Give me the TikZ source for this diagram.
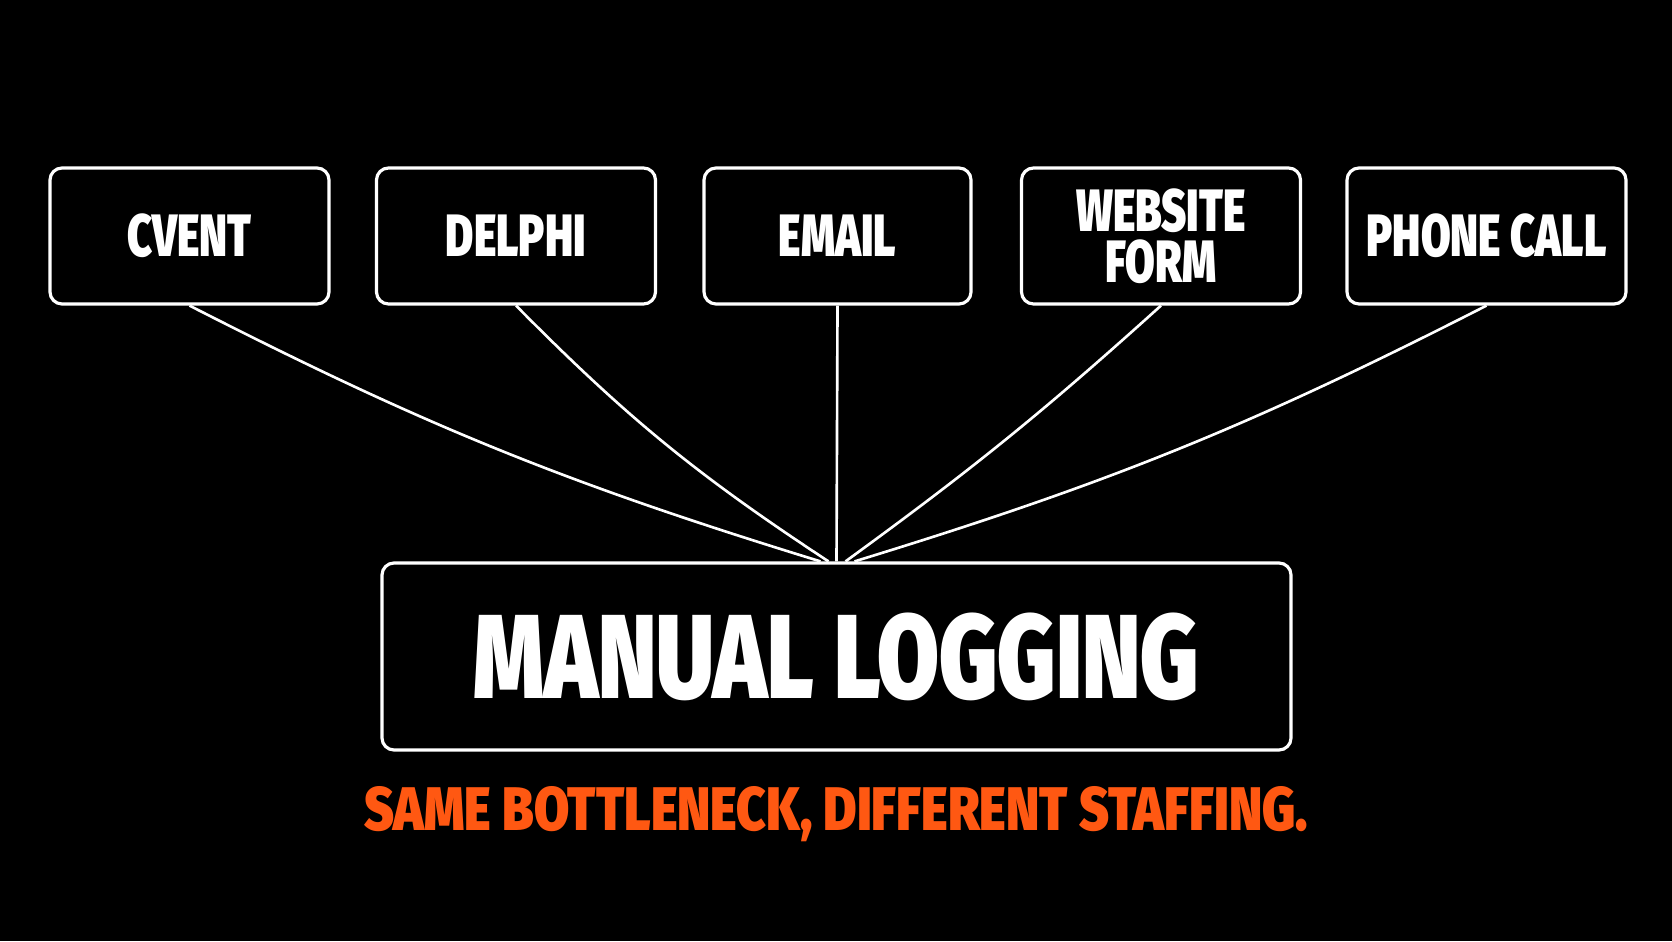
\documentclass[tikz,border=0pt]{standalone}
\usepackage{fontspec}
\newfontfamily\heavyfont{Fira Sans Black}[FakeStretch=0.72]
\newfontfamily\titlefont{Fira Sans Black}[FakeStretch=0.75]
\newfontfamily\notefont{Fira Sans Black}[FakeStretch=0.83]
\definecolor{hotorange}{RGB}{255,88,18}
\tikzset{
  srcbox/.style = {shape = rectangle, draw = white, line width = 0.9pt, rounded corners = 1.2mm,
    fill = black, text = white, minimum width = 2.79cm, minimum height = 1.36cm,
    align = center, font = \heavyfont\fontsize{17}{17}\selectfont},
  feed/.style = {draw = white, line width = 0.75pt}
}
\begin{document}
\begin{tikzpicture}
    \fill[black] (0, 0) rectangle (16.72, 9.41);
    \useasboundingbox (0, 0) rectangle (16.72, 9.41);

    \node (cvent) [srcbox] at (1.895, 7.05) {CVENT};
    \node (delphi) [srcbox] at (5.16, 7.05) {DELPHI};
    \node (email) [srcbox, minimum width = 2.67cm] at (8.375, 7.05) {EMAIL};
    \node (webform) [srcbox] at (11.61, 7.05) {WEBSITE\\[-2.5pt]FORM};
    \node (phone) [srcbox] at (14.865, 7.05) {PHONE CALL};

    \node (logging) [srcbox, minimum width = 9.09cm, minimum height = 1.87cm,
      font = \titlefont\fontsize{34}{34}\selectfont] at (8.365, 2.845) {MANUAL LOGGING};
    \node (note) [text = hotorange, font = \notefont\fontsize{17.5}{17.5}\selectfont]
      at (8.36, 1.27) {SAME BOTTLENECK, DIFFERENT STAFFING.};

    \draw [feed] (cvent.south) to[bend right = 5] ([xshift = -1.6mm]logging.north);
    \draw [feed] (delphi.south) to[bend right = 6] ([xshift = -0.8mm]logging.north);
    \draw [feed] (email.south) -- (logging.north);
    \draw [feed] (webform.south) to[bend left = 3] ([xshift = 0.9mm]logging.north);
    \draw [feed] (phone.south) to[bend left = 5] ([xshift = 1.8mm]logging.north);
\end{tikzpicture}
\end{document}
